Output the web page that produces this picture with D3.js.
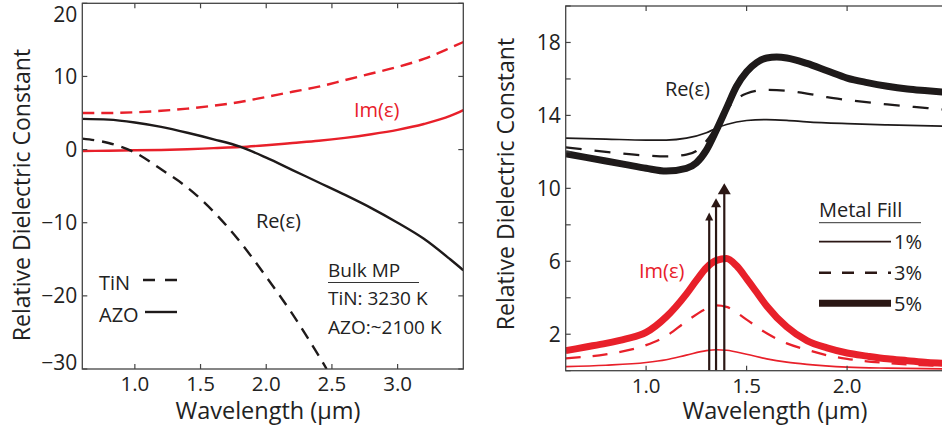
<!DOCTYPE html>
<html><head><meta charset="utf-8">
<script src="https://cdn.jsdelivr.net/npm/d3@7"></script>
<style>
body{margin:0;background:#fff;}
svg{display:block;font-family:"Open Sans",sans-serif;}
</style></head>
<body><svg id="c" width="942" height="425"></svg>
<script>
// ---------- Left panel data (Bulk) ----------
const tinReX = [0.6,0.8,1.0,1.2,1.4,1.6,1.8,2.0,2.2,2.4,2.46];
const tinRe  = [1.5,0.9,-0.4,-2.7,-5.2,-8.5,-12.6,-17.4,-22.5,-28.2,-30];
const tinImX = [0.6,0.8,1.0,1.2,1.4,1.6,1.8,2.0,2.2,2.4,2.6,2.8,3.0,3.2,3.4,3.5];
const tinIm  = [5.0,5.0,5.1,5.3,5.6,6.0,6.5,7.2,7.9,8.6,9.5,10.4,11.3,12.4,13.9,14.7];
const azoX   = [0.6,0.8,1.0,1.2,1.4,1.6,1.8,2.0,2.2,2.4,2.6,2.8,3.0,3.2,3.4,3.5];
const azoRe  = [4.2,4.1,3.7,3.1,2.3,1.4,0.4,-1.1,-2.8,-4.5,-6.2,-8.0,-10.0,-12.2,-15.0,-16.5];
const azoIm  = [-0.2,-0.15,-0.1,-0.05,0.05,0.2,0.35,0.6,0.9,1.2,1.6,2.1,2.7,3.5,4.6,5.4];
const leftXTicks = [1.0,1.5,2.0,2.5,3.0];
const leftYTicks = [-30,-20,-10,0,10,20];

// ---------- Right panel data (Metal fill) ----------
const re5X = [0.6,0.7,0.8,0.9,1.0,1.1,1.2,1.25,1.3,1.35,1.4,1.45,1.5,1.55,1.6,1.65,1.7,1.8,1.9,2.0,2.1,2.2,2.3,2.4,2.5];
const re5  = [11.9,11.7,11.5,11.3,11.1,10.95,11.1,11.4,12.1,13.2,14.4,15.6,16.4,16.9,17.15,17.2,17.15,16.85,16.45,16.05,15.8,15.6,15.45,15.35,15.25];
const re3X = [0.6,0.8,1.0,1.1,1.2,1.25,1.3,1.35,1.4,1.45,1.5,1.6,1.7,1.8,1.9,2.0,2.2,2.4,2.5];
const re3  = [12.25,12.0,11.8,11.75,11.85,12.05,12.6,13.4,14.3,14.9,15.2,15.4,15.35,15.2,15.0,14.85,14.6,14.4,14.3];
const re1X = [0.6,0.8,1.0,1.1,1.2,1.3,1.35,1.4,1.5,1.6,1.7,1.8,2.0,2.2,2.5];
const re1  = [12.75,12.7,12.65,12.65,12.75,13.05,13.3,13.5,13.72,13.77,13.73,13.65,13.55,13.48,13.4];
const im5X = [0.6,0.7,0.8,0.9,1.0,1.1,1.2,1.25,1.3,1.35,1.4,1.45,1.5,1.55,1.6,1.7,1.8,1.9,2.0,2.1,2.2,2.3,2.4,2.5];
const im5  = [1.1,1.3,1.5,1.75,2.1,2.95,4.2,4.95,5.65,6.05,6.15,5.75,5.05,4.3,3.55,2.4,1.65,1.25,0.97,0.8,0.65,0.55,0.45,0.4];
const im3X = [0.6,0.8,1.0,1.1,1.2,1.3,1.35,1.4,1.5,1.6,1.7,1.8,1.9,2.0,2.2,2.5];
const im3  = [0.68,0.9,1.4,1.9,2.7,3.4,3.58,3.5,2.8,2.05,1.5,1.15,0.85,0.65,0.42,0.25];
const im1X = [0.6,0.8,1.0,1.1,1.2,1.3,1.35,1.4,1.5,1.6,1.7,1.8,2.0,2.2,2.5];
const im1  = [0.22,0.3,0.45,0.6,0.85,1.1,1.15,1.12,0.9,0.65,0.47,0.35,0.2,0.14,0.1];
const arrowX   = [1.314,1.348,1.389];
const arrowTip = [8.68,9.46,10.28];
const rightXTicks = [1.0,1.5,2.0];
const rightYTicks = [0,2,4,6,8,10,12,14,16,18,20];
const rightYLabels = [2,6,10,14,18];
const fillLabels = ["1%","3%","5%"];

const RED = "#e8202a", BLK = "#1e1a1a", BRN = "#2b1714", FR = "#444";
const svg = d3.select("#c");
const zip = (xs, ys) => xs.map((x,i)=>[x,ys[i]]);

function frame(g, x, y, xt, yt, yLab) {
  const [x0,x1] = x.range(), [y0,y1] = y.range();
  const tl = 5;
  g.append("rect").attr("x",x0).attr("y",y1).attr("width",x1-x0).attr("height",y0-y1)
    .attr("fill","none").attr("stroke",FR).attr("stroke-width",1.3);
  xt.forEach(t=>{
    g.append("line").attr("x1",x(t)).attr("x2",x(t)).attr("y1",y0).attr("y2",y0-tl).attr("stroke",FR).attr("stroke-width",1.2);
    g.append("line").attr("x1",x(t)).attr("x2",x(t)).attr("y1",y1).attr("y2",y1+tl).attr("stroke",FR).attr("stroke-width",1.2);
    g.append("text").attr("x",x(t)).attr("y",y0+22).attr("text-anchor","middle")
      .attr("font-size",20.5).attr("fill","#222").text(d3.format(".1f")(t));
  });
  yt.forEach(t=>{
    g.append("line").attr("x1",x0).attr("x2",x0+tl).attr("y1",y(t)).attr("y2",y(t)).attr("stroke",FR).attr("stroke-width",1.2);
    g.append("line").attr("x1",x1).attr("x2",x1-tl).attr("y1",y(t)).attr("y2",y(t)).attr("stroke",FR).attr("stroke-width",1.2);
    if (!yLab || yLab.includes(t)) {
      const ty = Math.max(14, Math.min(362, y(t)));
      g.append("text").attr("x",x0-5).attr("y",ty).attr("dy","0.36em").attr("text-anchor","end")
        .attr("font-size",21).attr("fill","#222").text(t<0? "\u2212"+Math.abs(t) : t);
    }
  });
}

// ================= LEFT =================
{
  const x = d3.scaleLinear().domain([0.6,3.5]).range([82.3,463.3]);
  const y = d3.scaleLinear().domain([-30,20]).range([369,3.3]);
  const g = svg.append("g");
  svg.append("clipPath").attr("id","cl").append("rect")
    .attr("x",82.3).attr("y",3.3).attr("width",381).attr("height",365.7);
  const line = d3.line().x(d=>x(d[0])).y(d=>y(d[1])).curve(d3.curveMonotoneX);
  const pg = g.append("g").attr("clip-path","url(#cl)");
  pg.append("path").attr("d",line(zip(tinImX,tinIm))).attr("fill","none").attr("stroke",RED).attr("stroke-width",2.4).attr("stroke-dasharray","12,7");
  pg.append("path").attr("d",line(zip(azoX,azoIm))).attr("fill","none").attr("stroke",RED).attr("stroke-width",2.4);
  pg.append("path").attr("d",line(zip(azoX,azoRe))).attr("fill","none").attr("stroke",BLK).attr("stroke-width",2.4);
  pg.append("path").attr("d",line(zip(tinReX,tinRe))).attr("fill","none").attr("stroke",BLK).attr("stroke-width",2.4).attr("stroke-dasharray","12,8");
  frame(g,x,y,leftXTicks,leftYTicks,null);
  g.append("text").attr("x",354).attr("y",117).attr("font-size",20).attr("fill",RED).text("Im(ε)");
  g.append("text").attr("x",256).attr("y",228).attr("font-size",20).attr("fill","#222").text("Re(ε)");
  g.append("text").attr("x",99).attr("y",290).attr("font-size",20).attr("fill","#222").text("TiN");
  g.append("line").attr("x1",143).attr("x2",177).attr("y1",280).attr("y2",280).attr("stroke",BLK).attr("stroke-width",2.4).attr("stroke-dasharray","12,10");
  g.append("text").attr("x",99).attr("y",322).attr("font-size",20).attr("fill","#222").text("AZO");
  g.append("line").attr("x1",145).attr("x2",177).attr("y1",312).attr("y2",312).attr("stroke",BLK).attr("stroke-width",2.4);
  g.append("text").attr("x",328).attr("y",277).attr("font-size",19).attr("fill","#222").text("Bulk MP");
  g.append("line").attr("x1",328).attr("x2",419).attr("y1",282.5).attr("y2",282.5).attr("stroke","#333").attr("stroke-width",1);
  g.append("text").attr("x",328).attr("y",305).attr("font-size",19).attr("fill","#222").text("TiN: 3230 K");
  g.append("text").attr("x",328).attr("y",334).attr("font-size",19).attr("fill","#222").text("AZO:~2100 K");
  g.append("text").attr("transform","translate(30,195) rotate(-90)").attr("text-anchor","middle")
    .attr("font-size",23).attr("fill","#222").text("Relative Dielectric Constant");
  g.append("text").attr("x",268).attr("y",418.5).attr("text-anchor","middle")
    .attr("font-size",23.5).attr("fill","#222").text("Wavelength (μm)");
}

// ================= RIGHT =================
{
  const x = d3.scaleLinear().domain([0.6,2.5]).range([565.7,947.6]);
  const y = d3.scaleLinear().domain([0,20]).range([370.7,6]);
  const g = svg.append("g");
  svg.append("clipPath").attr("id","cr").append("rect")
    .attr("x",565.7).attr("y",6).attr("width",382).attr("height",364.7);
  const line = d3.line().x(d=>x(d[0])).y(d=>y(d[1])).curve(d3.curveMonotoneX);
  const pg = g.append("g").attr("clip-path","url(#cr)");
  const add = (xs,ys,c,w,dash)=>{
    const p = pg.append("path").attr("d",line(zip(xs,ys))).attr("fill","none").attr("stroke",c).attr("stroke-width",w).attr("stroke-linejoin","round");
    if (dash) p.attr("stroke-dasharray",dash);
  };
  add(im5X,im5,RED,7);
  add(im3X,im3,RED,2.3,"15,12");
  add(im1X,im1,RED,1.7);
  add(re1X,re1,BLK,1.7);
  add(re3X,re3,BLK,2.3,"16,13");
  add(re5X,re5,BLK,7);
  // arrows
  const heads = [[8,8],[10,9],[13,11]];
  arrowX.forEach((ax,i)=>{
    const [hw,hh] = heads[i];
    const px = x(ax), tip = y(arrowTip[i]);
    pg.append("line").attr("x1",px).attr("x2",px).attr("y1",y(0)).attr("y2",tip+hh-1).attr("stroke",BRN).attr("stroke-width",2.2);
    pg.append("path").attr("d",`M${px},${tip} L${px-hw/2},${tip+hh} L${px+hw/2},${tip+hh} Z`).attr("fill",BRN);
  });
  frame(g,x,y,rightXTicks,rightYTicks,rightYLabels);
  g.append("text").attr("x",665).attr("y",96).attr("font-size",20).attr("fill","#222").text("Re(ε)");
  g.append("text").attr("x",639).attr("y",278).attr("font-size",20).attr("fill",RED).text("Im(ε)");
  // legend
  g.append("text").attr("x",819).attr("y",216.5).attr("font-size",20).attr("fill","#222").text("Metal Fill");
  g.append("line").attr("x1",819).attr("x2",921).attr("y1",222.7).attr("y2",222.7).attr("stroke","#333").attr("stroke-width",1);
  const ly = [241.7,272.7,303.3], lw = [1.8,2.4,7], ld = [null,"12,11",null];
  fillLabels.forEach((lab,i)=>{
    const l = g.append("line").attr("x1",819).attr("x2",891).attr("y1",ly[i]).attr("y2",ly[i]).attr("stroke",BRN).attr("stroke-width",lw[i]);
    if (ld[i]) l.attr("stroke-dasharray",ld[i]);
    g.append("text").attr("x",894).attr("y",ly[i]).attr("dy","0.36em").attr("font-size",20).attr("fill","#222").text(lab);
  });
  g.append("text").attr("transform","translate(514,184) rotate(-90)").attr("text-anchor","middle")
    .attr("font-size",23).attr("fill","#222").text("Relative Dielectric Constant");
  g.append("text").attr("x",775).attr("y",418.5).attr("text-anchor","middle")
    .attr("font-size",23.5).attr("fill","#222").text("Wavelength (μm)");
}
</script></body></html>
